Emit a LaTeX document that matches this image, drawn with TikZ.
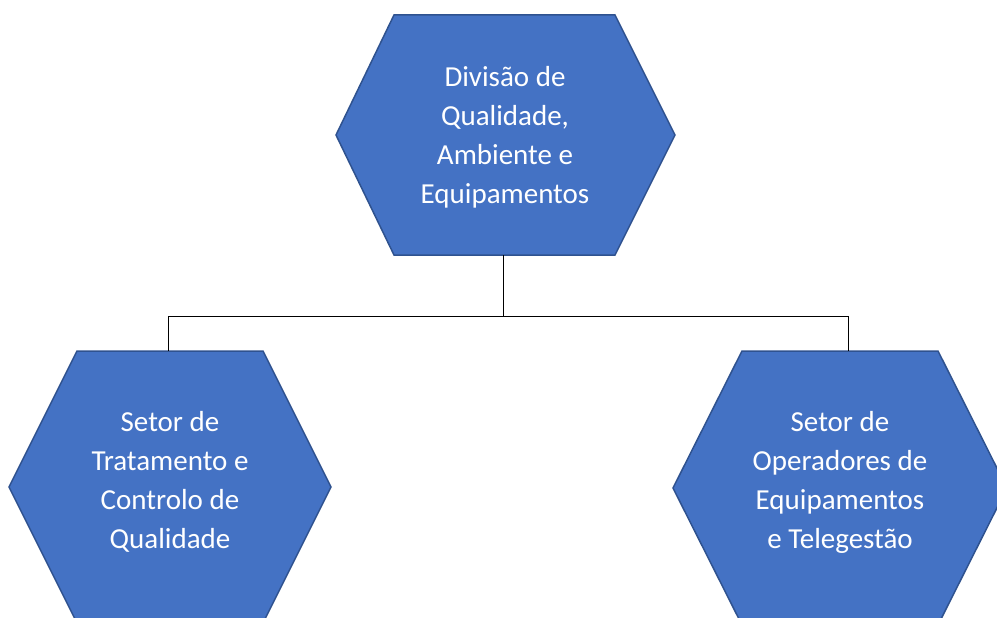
\documentclass[tikz,border=0pt]{standalone}
\usepackage{fontspec}
\setmainfont{Carlito}
\definecolor{hexfill}{HTML}{4472C4}
\definecolor{hexline}{HTML}{2F528F}
\tikzset{
  hexbox/.style={fill=hexfill, draw=hexline, line width=1.5pt, line join=miter},
  hextext/.style={text=white, align=center, font=\fontsize{29}{39}\selectfont},
  link/.style={draw=black, line width=1pt}
}
\begin{document}
\begin{tikzpicture}[x=1pt,y=-1pt]
\useasboundingbox (0,0) rectangle (997,618);
\clip (0,0) rectangle (997,618);
% top hexagon
\draw[hexbox] (394,15) -- (615,15) -- (675,135) -- (615,255) -- (394,255) -- (336,135) -- cycle;
\node[hextext] (top) at (505,137) {Divisão de\\Qualidade,\\Ambiente e\\Equipamentos};
% bottom-left hexagon
\draw[hexbox] (77,351) -- (263,351) -- (331,487) -- (263,623) -- (77,623) -- (9,487) -- cycle;
\node[hextext] (left) at (170,482) {Setor de\\Tratamento e\\Controlo de\\Qualidade};
% bottom-right hexagon
\draw[hexbox] (742,351) -- (938,351) -- (1007,488) -- (938,625) -- (742,625) -- (673,488) -- cycle;
\node[hextext] (right) at (840,482) {Setor de\\Operadores de\\Equipamentos\\e Telegestão};
% connector points
\coordinate (topB) at (503,255);
\coordinate (mid) at (503,316);
\coordinate (leftT) at (168,351);
\coordinate (rightT) at (848,351);
\draw[link] (topB) -- (mid);
\draw[link] (mid) -| (leftT);
\draw[link] (mid) -| (rightT);
\end{tikzpicture}
\end{document}
